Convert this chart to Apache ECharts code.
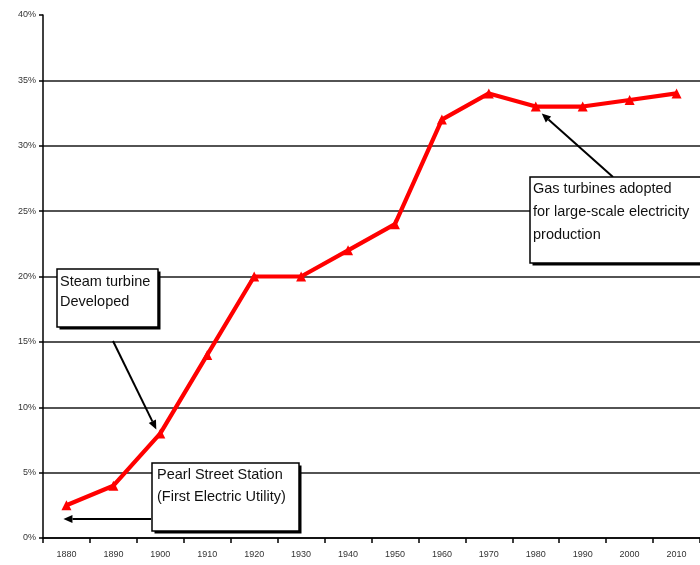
<!DOCTYPE html>
<html>
<head>
<meta charset="utf-8">
<script src="https://cdn.jsdelivr.net/npm/echarts@6/dist/echarts.min.js"></script>
<style>
  html, body { margin: 0; padding: 0; background: #fff; }
  #chart { width: 700px; height: 565px; }
</style>
</head>
<body>
<div id="chart"></div>
<script>
// Decades on the category axis
const years = ['1880', '1890', '1900', '1910', '1920', '1930', '1940', '1950',
               '1960', '1970', '1980', '1990', '2000', '2010'];
// Efficiency, percent
const efficiency = [2.5, 4, 8, 14, 20, 20, 22, 24, 32, 34, 33, 33, 33.5, 34];
// Value axis range
const yMin = 0, yMax = 40, yStep = 5;

// Callout texts
const steamNote = ['Steam turbine', 'Developed'];
const pearlNote = ['Pearl Street Station', '(First Electric Utility)'];
const gasNote = ['Gas turbines adopted', 'for large-scale electricity', 'production'];

const FONT = 'Liberation Sans, Arial, sans-serif';

const chart = echarts.init(document.getElementById('chart'), null, { renderer: 'canvas' });

// split lines: draw every level except the top one
const splitColors = [];
for (let v = yMin; v <= yMax; v += yStep) splitColors.push(v === yMax ? 'rgba(0,0,0,0)' : '#1a1a1a');

const option = {
  animation: false,
  backgroundColor: '#ffffff',
  grid: { left: 43, top: 15, bottom: 27, width: 666, containLabel: false },
  xAxis: {
    type: 'category',
    data: years,
    boundaryGap: true,
    axisLine: { lineStyle: { color: '#000', width: 1.5 } },
    axisTick: { show: true, length: 5, lineStyle: { color: '#000', width: 1.5 } },
    axisLabel: { color: '#333', fontSize: 9, fontFamily: FONT, margin: 12 },
    splitLine: { show: false }
  },
  yAxis: {
    type: 'value',
    min: yMin, max: yMax, interval: yStep,
    axisLine: { show: true, lineStyle: { color: '#000', width: 1.5 } },
    axisTick: { show: true, length: 4, lineStyle: { color: '#000', width: 1.5 } },
    axisLabel: { formatter: '{value}%', color: '#333', fontSize: 9, fontFamily: FONT, margin: 7 },
    splitLine: { show: true, lineStyle: { color: splitColors, width: 1.6 } }
  },
  series: [{
    type: 'line',
    data: efficiency,
    symbol: 'triangle',
    symbolSize: 10,
    lineStyle: { color: '#ff0000', width: 4.2 },
    itemStyle: { color: '#ff0000' },
    z: 3
  }]
};
chart.setOption(option);

function px(i) {
  return chart.convertToPixel({ seriesIndex: 0 }, [i, efficiency[i]]);
}

function box(x, y, w, h, lines, lineH, textX, textTop) {
  return [
    { type: 'rect', shape: { x: x + 2.5, y: y + 2.5, width: w, height: h }, style: { fill: '#000' }, z: 20 },
    { type: 'rect', shape: { x: x, y: y, width: w, height: h }, style: { fill: '#fff', stroke: '#000', lineWidth: 1.5 }, z: 21 },
    { type: 'text', z: 22, style: {
        text: lines.join('\n'), x: textX, y: textTop,
        fontSize: 14.5, fontFamily: FONT, fill: '#111', lineHeight: lineH,
        textAlign: 'left', textVerticalAlign: 'top'
    } }
  ];
}

function arrow(x1, y1, x2, y2) {
  const ang = Math.atan2(y2 - y1, x2 - x1);
  const len = 9, half = 4;
  const bx = x2 - len * Math.cos(ang), by = y2 - len * Math.sin(ang);
  const nx = -Math.sin(ang) * half, ny = Math.cos(ang) * half;
  return [
    { type: 'line', z: 19, shape: { x1: x1, y1: y1, x2: bx, y2: by }, style: { stroke: '#000', lineWidth: 2 } },
    { type: 'polygon', z: 19, shape: { points: [[x2, y2], [bx + nx, by + ny], [bx - nx, by - ny]] }, style: { fill: '#000' } }
  ];
}

const p1880 = px(0), p1900 = px(2), p1980 = px(10);

const elements = []
  .concat(arrow(113, 341, p1900[0] - 4, p1900[1] - 4))
  .concat(arrow(151, 519, p1880[0] - 3, 519))
  .concat(arrow(613, 177, p1980[0] + 6, p1980[1] + 7))
  .concat(box(57, 269, 101, 58, steamNote, 20, 60, 272))
  .concat(box(152, 463, 147, 68, pearlNote, 22, 157, 464))
  .concat(box(530, 177, 175, 86, gasNote, 23, 533, 177));

chart.setOption({ graphic: { elements: elements } });
</script>
</body>
</html>
